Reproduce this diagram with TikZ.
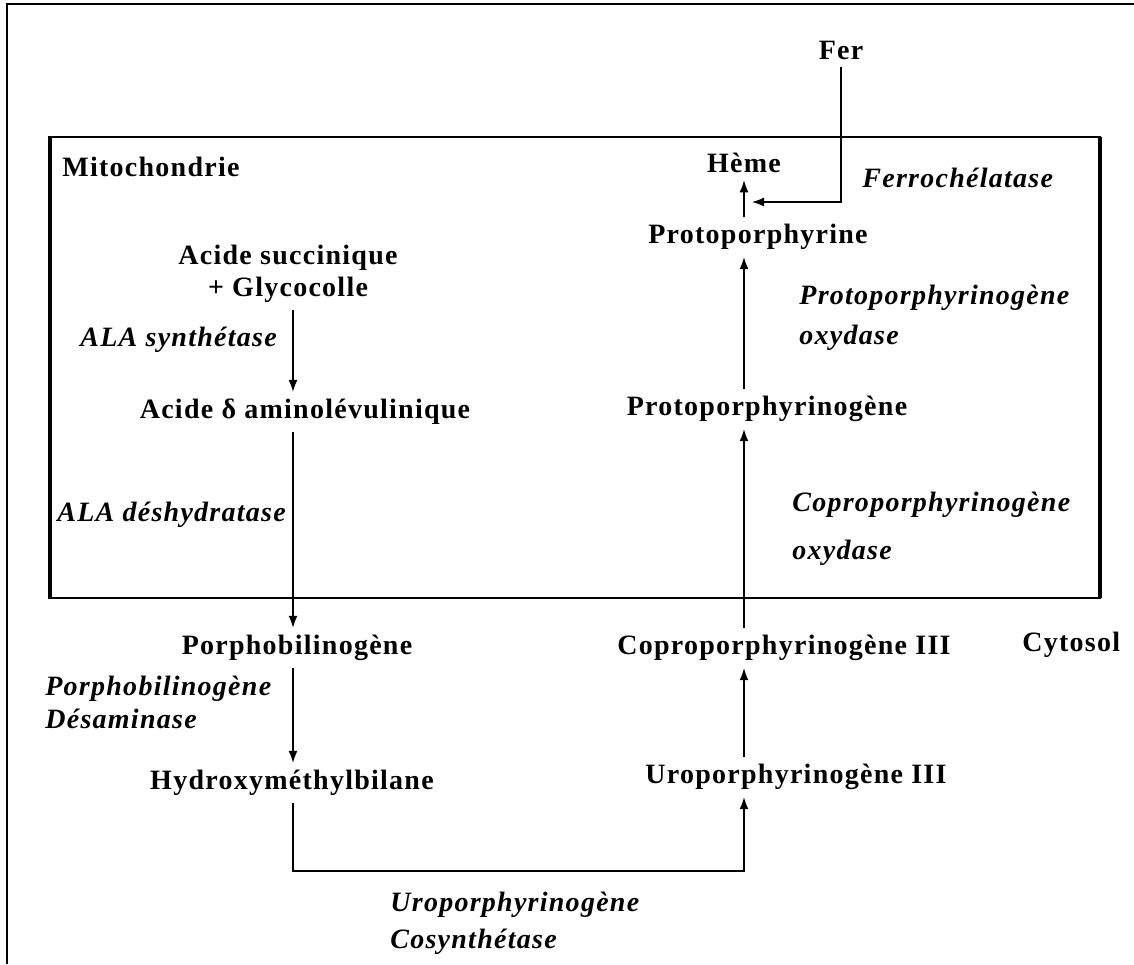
\documentclass[tikz,border=0pt]{standalone}
\usepackage{fontspec}
\setmainfont{Liberation Serif}[LetterSpace=4.5]
\usetikzlibrary{arrows.meta}
\begin{document}
\begin{tikzpicture}[x=0.5pt,y=-0.5pt,
            compose/.style={font=\fontsize{14}{16}\selectfont\bfseries, inner sep=3.5pt},
            enzyme/.style={font=\fontsize{14}{16.5}\selectfont\bfseries\itshape, align=left, anchor=west, inner sep=0pt},
            fleche/.style={-{Latex[length=6pt,width=4.5pt]}, line width=0.6pt}
            ]
            \useasboundingbox (0,0) rectangle (1134,964);
            % cadre et mitochondrie
            \draw[line width=1.2pt] (7,964) -- (7,4) -- (1134,4);
            \draw[line width=1.3pt] (49,137) rectangle (1100,598);
            \draw[line width=2.4pt] (50,137) -- (50,598);
            \draw[line width=2.2pt] (1100,137) -- (1100,598);
            \coordinate (colg) at (293,0);
            \coordinate (cold) at (744,0);
            \coordinate (jonction) at (752,202);
            \coordinate (coude) at (0,871);

            \node[compose, anchor=west] (mito) at (55,167) {Mitochondrie};
            \node[compose, anchor=west] (cyto) at (1015,645) {Cytosol};

            % colonne de gauche
            \node[compose, align=center] (acsuc) at (288,274) {Acide succinique\\+ Glycocolle};
            \node[compose] (ala) at (305,412) {Acide δ aminolévulinique};
            \node[compose] (pbg) at (297,648) {Porphobilinogène};
            \node[compose] (hmb) at (292,783) {Hydroxyméthylbilane};

            % colonne de droite
            \node[compose] (fer) at (841,50) {Fer};
            \node[compose] (heme) at (744,163) {Hème};
            \node[compose] (proto) at (758,237) {Protoporphyrine};
            \node[compose] (protogen) at (767,409) {Protoporphyrinogène};
            \node[compose] (copro) at (784,648) {Coproporphyrinogène III};
            \node[compose] (uro) at (796,777) {Uroporphyrinogène III};

            % enzymes
            \node[enzyme] (alas) at (80,340) {ALA synthétase};
            \node[enzyme] (alad) at (57,515) {ALA déshydratase};
            \node[enzyme] (desam) at (45,702) {Porphobilinogène\\Désaminase};
            \node[enzyme] (cosyn) at (390,923) {Uroporphyrinogène\\[2pt]Cosynthétase};
            \node[enzyme] (ferro) at (862,178) {Ferrochélatase};
            \node[enzyme] (protox) at (799,318) {Protoporphyrinogène\\[3.5pt]oxydase};
            \node[enzyme] (coprox) at (792,529) {Coproporphyrinogène\\[7.5pt]oxydase};

            \draw[fleche] (acsuc.south -| colg) -- (ala.north -| colg);
            \draw[fleche] (ala.south -| colg) -- (pbg.north -| colg);
            \draw[fleche] (pbg.south -| colg) -- (hmb.north -| colg);
            \draw[fleche] (hmb.south -| colg) |- (coude -| cold) -- (uro.south -| cold);
            \draw[fleche] (uro.north -| cold) -- (copro.south -| cold);
            \draw[fleche] (copro.north -| cold) -- (protogen.south -| cold);
            \draw[fleche] (protogen.north -| cold) -- (proto.south -| cold);
            \draw[fleche] (proto.north -| cold) -- (heme.south -| cold);
            \draw[fleche] (fer.south) |- (jonction);
            \end{tikzpicture}
\end{document}
